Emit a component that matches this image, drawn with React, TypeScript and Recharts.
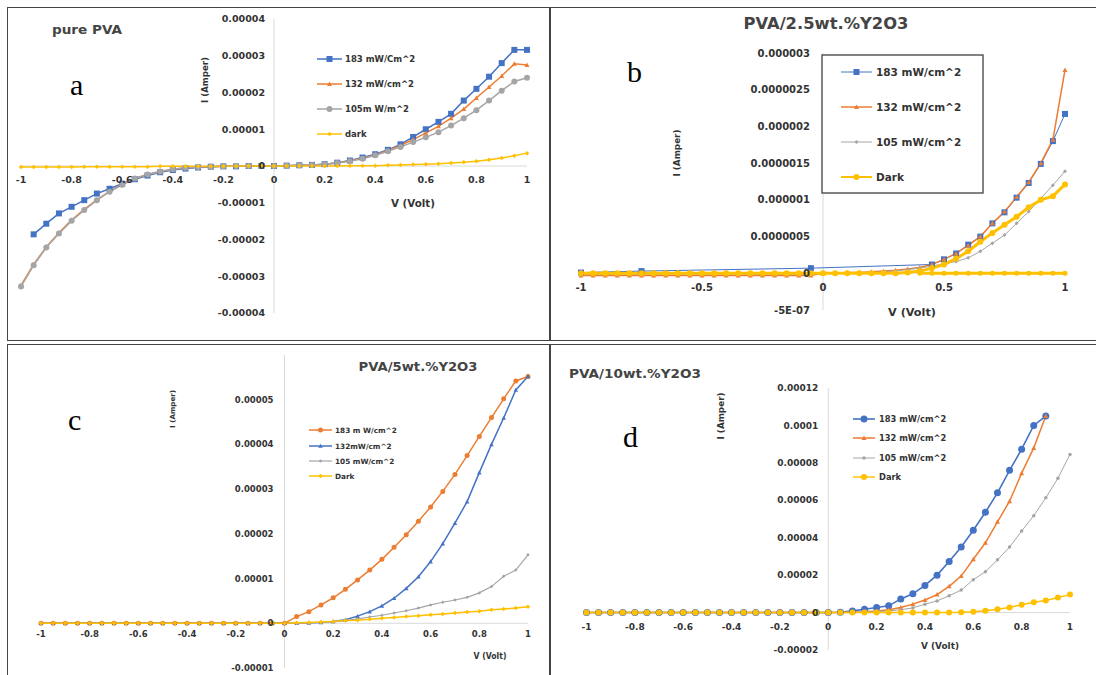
import React from 'react';
import { LineChart, Line, XAxis, YAxis, ReferenceLine, ReferenceDot } from 'recharts';

const FONT = "'DejaVu Sans', 'Liberation Sans', sans-serif";
const SERIF = "'Liberation Serif', 'DejaVu Serif', serif";
const BLUE = '#4472C4';
const ORANGE = '#ED7D31';
const GRAY = '#A5A5A5';
const GOLD = '#FFC000';
const TXT = '#333333';

// Voltage (V) sampled in every panel
const VOLTS = [-1, -0.95, -0.9, -0.85, -0.8, -0.75, -0.7, -0.65, -0.6, -0.55, -0.5, -0.45, -0.4, -0.35, -0.3, -0.25, -0.2, -0.15, -0.1, -0.05, 0, 0.05, 0.1, 0.15, 0.2, 0.25, 0.3, 0.35, 0.4, 0.45, 0.5, 0.55, 0.6, 0.65, 0.7, 0.75, 0.8, 0.85, 0.9, 0.95, 1];

// Tick values / labels
const X_TICKS = [-1, -0.8, -0.6, -0.4, -0.2, 0, 0.2, 0.4, 0.6, 0.8, 1];
const X_LABELS = ['-1', '-0.8', '-0.6', '-0.4', '-0.2', '0', '0.2', '0.4', '0.6', '0.8', '1'];
const B_X_TICKS = [-1, -0.5, 0, 0.5, 1];
const B_X_LABELS = ['-1', '-0.5', '0', '0.5', '1'];
const A_Y_TICKS = [4, 3, 2, 1, 0, -1, -2, -3, -4]; // x 1e-5 A
const A_Y_LABELS = ['0.00004', '0.00003', '0.00002', '0.00001', '0', '-0.00001', '-0.00002', '-0.00003', '-0.00004'];
const B_Y_TICKS = [3, 2.5, 2, 1.5, 1, 0.5, 0, -0.5]; // x 1e-6 A
const B_Y_LABELS = ['0.000003', '0.0000025', '0.000002', '0.0000015', '0.000001', '0.0000005', '0', '-5E-07'];
const C_Y_TICKS = [5, 4, 3, 2, 1, 0, -1]; // x 1e-5 A
const C_Y_LABELS = ['0.00005', '0.00004', '0.00003', '0.00002', '0.00001', '0', '-0.00001'];
const D_Y_TICKS = [12, 10, 8, 6, 4, 2, 0, -2]; // x 1e-5 A
const D_Y_LABELS = ['0.00012', '0.0001', '0.00008', '0.00006', '0.00004', '0.00002', '0', '-0.00002'];

// Panel a: pure PVA (current in 1e-5 A)
const A_183 = [null, -1.86, -1.57, -1.29, -1.11, -0.93, -0.75, -0.62, -0.48, -0.36, -0.26, -0.17, -0.11, -0.07, -0.04, -0.02, -0.01, -0.01, 0, 0, 0, 0.01, 0.02, 0.03, 0.05, 0.09, 0.15, 0.23, 0.32, 0.44, 0.59, 0.79, 1.0, 1.2, 1.42, 1.78, 2.1, 2.43, 2.8, 3.16, 3.16];
const A_132 = [-3.25, -2.68, -2.2, -1.82, -1.47, -1.18, -0.92, -0.69, -0.5, -0.34, -0.23, -0.15, -0.09, -0.05, -0.03, -0.02, -0.01, 0, 0, 0, 0, 0.01, 0.02, 0.03, 0.05, 0.08, 0.14, 0.21, 0.3, 0.42, 0.56, 0.72, 0.9, 1.08, 1.3, 1.55, 1.85, 2.15, 2.45, 2.78, 2.75];
const A_105 = [-3.28, -2.7, -2.22, -1.84, -1.49, -1.2, -0.93, -0.7, -0.51, -0.34, -0.23, -0.15, -0.09, -0.05, -0.03, -0.02, -0.01, 0, 0, 0, 0, 0.01, 0.02, 0.03, 0.05, 0.08, 0.13, 0.2, 0.29, 0.4, 0.52, 0.65, 0.78, 0.92, 1.1, 1.3, 1.52, 1.78, 2.05, 2.3, 2.4];
const A_DARK = [-0.03, -0.03, -0.03, -0.03, -0.03, -0.02, -0.02, -0.02, -0.02, -0.02, -0.02, -0.01, -0.01, -0.01, -0.01, -0.01, -0.01, 0, 0, 0, 0, 0, 0, 0, 0, 0, 0.01, 0.01, 0.01, 0.02, 0.03, 0.04, 0.05, 0.06, 0.08, 0.1, 0.13, 0.17, 0.22, 0.28, 0.35];

// Panel b: PVA/2.5wt.%Y2O3 (current in 1e-6 A)
const B_183 = [0.01, null, null, null, null, 0.03, null, null, null, null, null, null, null, null, null, null, null, null, null, 0.07, null, null, null, null, null, null, null, null, null, 0.12, 0.19, 0.27, 0.39, 0.5, 0.68, 0.83, 1.03, 1.23, 1.49, 1.8, 2.17];
const B_132 = [-0.03, -0.03, -0.03, -0.03, -0.03, -0.03, -0.03, -0.03, -0.03, -0.03, -0.03, -0.03, -0.03, -0.03, -0.03, -0.03, -0.03, -0.03, -0.03, -0.03, 0, 0, 0.01, 0.01, 0.02, 0.03, 0.04, 0.06, 0.08, 0.12, 0.19, 0.27, 0.38, 0.5, 0.68, 0.84, 1.04, 1.24, 1.5, 1.82, 2.77];
const B_105 = [-0.015, -0.015, -0.015, -0.015, -0.015, -0.015, -0.015, -0.015, -0.015, -0.015, -0.015, -0.015, -0.015, -0.015, -0.015, -0.015, -0.015, -0.015, -0.015, -0.015, 0, 0, 0, 0.01, 0.01, 0.02, 0.03, 0.05, 0.07, 0.1, 0.13, 0.16, 0.21, 0.3, 0.41, 0.52, 0.68, 0.84, 1.02, 1.2, 1.39];
const B_DARK = [0, 0, 0, 0, 0, 0, 0, 0, 0, 0, 0, 0, 0, 0, 0, 0, 0, 0, 0, 0, 0, 0, 0, 0, 0, 0, 0, 0.01, 0.03, 0.07, 0.12, 0.2, 0.3, 0.43, 0.55, 0.66, 0.77, 0.9, 1.0, 1.05, 1.21];
const B_DARK_BASE = [null, null, null, null, null, null, null, null, null, null, null, null, null, null, null, null, null, null, null, null, null, null, null, null, null, null, null, null, 0, 0, 0, 0, 0, 0, 0, 0, 0, 0, 0, 0, 0];

// Panel c: PVA/5wt.%Y2O3 (current in 1e-5 A)
const C_183 = [0, 0, 0, 0, 0, 0, 0, 0, 0, 0, 0, 0, 0, 0, 0, 0, 0, 0, 0, 0, 0, 0.15, 0.26, 0.41, 0.57, 0.76, 0.97, 1.19, 1.43, 1.7, 1.98, 2.28, 2.6, 2.95, 3.33, 3.75, 4.18, 4.6, 5.02, 5.42, 5.52];
const C_132 = [0, 0, 0, 0, 0, 0, 0, 0, 0, 0, 0, 0, 0, 0, 0, 0, 0, 0, 0, 0, 0, 0, 0.01, 0.02, 0.04, 0.08, 0.16, 0.26, 0.39, 0.56, 0.78, 1.04, 1.38, 1.78, 2.24, 2.72, 3.37, 4.0, 4.59, 5.22, 5.52];
const C_105 = [0, 0, 0, 0, 0, 0, 0, 0, 0, 0, 0, 0, 0, 0, 0, 0, 0, 0, 0, 0, 0, 0, 0.01, 0.02, 0.03, 0.06, 0.1, 0.14, 0.18, 0.23, 0.28, 0.34, 0.41, 0.47, 0.52, 0.58, 0.68, 0.82, 1.05, 1.19, 1.53];
const C_DARK = [0, 0, 0, 0, 0, 0, 0, 0, 0, 0, 0, 0, 0, 0, 0, 0, 0, 0, 0, 0, 0, 0.01, 0.02, 0.03, 0.04, 0.06, 0.07, 0.09, 0.11, 0.13, 0.15, 0.17, 0.19, 0.21, 0.23, 0.25, 0.27, 0.3, 0.32, 0.34, 0.37];

// Panel d: PVA/10wt.%Y2O3 (current in 1e-5 A)
const D_183 = [0, 0, 0, 0, 0, 0, 0, 0, 0, 0, 0, 0, 0, 0, 0, 0, 0, 0, 0, 0, 0, 0.02, 0.09, 0.18, 0.27, 0.36, 0.73, 1.0, 1.45, 2.0, 2.73, 3.5, 4.4, 5.36, 6.4, 7.6, 8.73, 10.0, 10.5, null, null];
const D_132 = [0, 0, 0, 0, 0, 0, 0, 0, 0, 0, 0, 0, 0, 0, 0, 0, 0, 0, 0, 0, 0, 0.01, 0.02, 0.04, 0.08, 0.15, 0.27, 0.45, 0.67, 0.96, 1.4, 1.95, 2.85, 3.73, 4.85, 5.95, 7.45, 8.8, 10.5, null, null];
const D_105 = [0, 0, 0, 0, 0, 0, 0, 0, 0, 0, 0, 0, 0, 0, 0, 0, 0, 0, 0, 0, 0, 0, 0.01, 0.03, 0.05, 0.09, 0.15, 0.25, 0.45, 0.62, 0.9, 1.2, 1.76, 2.18, 2.82, 3.5, 4.36, 5.18, 6.13, 7.18, 8.45];
const D_DARK = [0, 0, 0, 0, 0, 0, 0, 0, 0, 0, 0, 0, 0, 0, 0, 0, 0, 0, 0, 0, 0, 0, 0, 0, 0, 0, 0, 0, 0, 0, 0.01, 0.02, 0.05, 0.1, 0.18, 0.27, 0.42, 0.55, 0.64, 0.8, 0.96];

type Shape = 'square' | 'triangle' | 'circle' | 'diamond';
interface Series {
  name: string;
  values: (number | null)[];
  color: string;
  shape: Shape;
  size: number;
  width: number;
  legend?: boolean;
  connect?: boolean;
}
interface Legend {
  x1: number;
  x2: number;
  tx: number;
  rows: number[];
  font: number;
  box?: { x: number; y: number; w: number; h: number };
}
interface Panel {
  left: number;
  top: number;
  width: number;
  height: number;
  margin: { top: number; right: number; bottom: number; left: number };
  yDomain: [number, number];
  xTicks: number[];
  xLabels: string[];
  yTicks: number[];
  yLabels: string[];
  tickFont: number;
  yOff: number;
  xOff: number;
  series: Series[];
  legend: Legend;
}

function marker(shape: Shape, cx: number, cy: number, s: number, color: string, key?: string) {
  const h = s / 2;
  switch (shape) {
    case 'square':
      return <rect key={key} x={cx - h} y={cy - h} width={s} height={s} fill={color} />;
    case 'triangle':
      return <polygon key={key} points={`${cx},${cy - h} ${cx + h},${cy + h * 0.8} ${cx - h},${cy + h * 0.8}`} fill={color} />;
    case 'diamond':
      return <polygon key={key} points={`${cx},${cy - h} ${cx + h},${cy} ${cx},${cy + h} ${cx - h},${cy}`} fill={color} />;
    default:
      return <circle key={key} cx={cx} cy={cy} r={h} fill={color} />;
  }
}

function dotFor(s: Series) {
  return (p: any) => {
    const { cx, cy, index, value } = p;
    if (value === null || value === undefined || cx == null || cy == null || Number.isNaN(cy)) {
      return <g key={`e${index}`} />;
    }
    return marker(s.shape, cx, cy, s.size, s.color, `m${index}`);
  };
}

const PANEL_A: Panel = {
  left: 0, top: 0, width: 550, height: 340,
  margin: { top: 19, right: 23, bottom: 27, left: 21 },
  yDomain: [-4, 4],
  xTicks: X_TICKS, xLabels: X_LABELS, yTicks: A_Y_TICKS, yLabels: A_Y_LABELS,
  tickFont: 9.5, yOff: 9, xOff: 10,
  series: [
    { name: '183 mW/Cm^2', values: A_183, color: BLUE, shape: 'square', size: 6, width: 1.5 },
    { name: '132 mW/cm^2', values: A_132, color: ORANGE, shape: 'triangle', size: 5, width: 1.5 },
    { name: '105m W/m^2', values: A_105, color: GRAY, shape: 'circle', size: 6, width: 1.5 },
    { name: 'dark', values: A_DARK, color: GOLD, shape: 'diamond', size: 4.5, width: 1.5 },
  ],
  legend: { x1: 317, x2: 342, tx: 345, rows: [59, 84, 109, 134], font: 8.5 },
};

const PANEL_B: Panel = {
  left: 550, top: 0, width: 546, height: 340,
  margin: { top: 53, right: 31, bottom: 30, left: 31 },
  yDomain: [-0.5, 3],
  xTicks: B_X_TICKS, xLabels: B_X_LABELS, yTicks: B_Y_TICKS, yLabels: B_Y_LABELS,
  tickFont: 10, yOff: 13, xOff: 11,
  series: [
    { name: '183 mW/cm^2', values: B_183, color: BLUE, shape: 'square', size: 6, width: 1, connect: true },
    { name: '132 mW/cm^2', values: B_132, color: ORANGE, shape: 'triangle', size: 5, width: 1.5 },
    { name: '105 mW/cm^2', values: B_105, color: GRAY, shape: 'diamond', size: 4, width: 1 },
    { name: 'Dark', values: B_DARK, color: GOLD, shape: 'circle', size: 6, width: 3 },
    { name: 'Dark base', values: B_DARK_BASE, color: GOLD, shape: 'circle', size: 5, width: 3, legend: false },
  ],
  legend: { x1: 841, x2: 872, tx: 876, rows: [72, 107, 142, 177], font: 10.5, box: { x: 822, y: 55, w: 161, h: 138 } },
};

const PANEL_C: Panel = {
  left: 0, top: 340, width: 550, height: 335,
  margin: { top: 15, right: 22, bottom: 7, left: 41 },
  yDomain: [-1, 6],
  xTicks: X_TICKS, xLabels: X_LABELS, yTicks: C_Y_TICKS, yLabels: C_Y_LABELS,
  tickFont: 8.5, yOff: 11, xOff: 8,
  series: [
    { name: '183 m W/cm^2', values: C_183, color: ORANGE, shape: 'circle', size: 5, width: 1.5 },
    { name: '132mW/cm^2', values: C_132, color: BLUE, shape: 'triangle', size: 4.5, width: 1.5 },
    { name: '105 mW/cm^2', values: C_105, color: GRAY, shape: 'diamond', size: 3.5, width: 1.2 },
    { name: 'Dark', values: C_DARK, color: GOLD, shape: 'diamond', size: 4.5, width: 1.5 },
  ],
  legend: { x1: 309, x2: 332, tx: 335, rows: [430, 446, 461, 476], font: 7.3 },
};

const PANEL_D: Panel = {
  left: 550, top: 340, width: 546, height: 335,
  margin: { top: 48, right: 26, bottom: 25, left: 36.5 },
  yDomain: [-2, 12],
  xTicks: X_TICKS, xLabels: X_LABELS, yTicks: D_Y_TICKS, yLabels: D_Y_LABELS,
  tickFont: 9, yOff: 10, xOff: 11,
  series: [
    { name: '183 mW/cm^2', values: D_183, color: BLUE, shape: 'circle', size: 7, width: 1.6 },
    { name: '132 mW/cm^2', values: D_132, color: ORANGE, shape: 'triangle', size: 5, width: 1.5 },
    { name: '105 mW/cm^2', values: D_105, color: GRAY, shape: 'circle', size: 3.5, width: 1 },
    { name: 'Dark', values: D_DARK, color: GOLD, shape: 'circle', size: 6, width: 1.5 },
  ],
  legend: { x1: 853, x2: 875, tx: 879, rows: [419, 438, 458, 477], font: 8.3 },
};

const PANELS = [PANEL_A, PANEL_B, PANEL_C, PANEL_D];

function PanelChart({ cfg }: { cfg: Panel }) {
  const rows = VOLTS.map((v, i) => {
    const r: Record<string, number | null> = { v };
    cfg.series.forEach((s, k) => {
      r['s' + k] = s.values[i];
    });
    return r;
  });
  const labelStyle = { fontSize: cfg.tickFont, fontWeight: 700, fill: TXT, fontFamily: FONT };
  return (
    <div style={{ position: 'absolute', left: cfg.left, top: cfg.top }}>
      <LineChart width={cfg.width} height={cfg.height} data={rows} margin={cfg.margin}>
        <XAxis dataKey="v" type="number" domain={[-1, 1]} hide />
        <YAxis type="number" domain={cfg.yDomain} hide />
        <ReferenceLine x={0} stroke="#D9D9D9" strokeWidth={1} />
        <ReferenceLine y={0} stroke="#D9D9D9" strokeWidth={1} />
        {cfg.series.map((s, k) => (
          <Line
            key={k}
            dataKey={'s' + k}
            type="linear"
            stroke={s.color}
            strokeWidth={s.width}
            dot={dotFor(s)}
            activeDot={false}
            isAnimationActive={false}
            connectNulls={!!s.connect}
          />
        ))}
        {cfg.xTicks.map((t, i) => (
          <ReferenceDot
            key={'x' + i}
            x={t}
            y={0}
            r={0}
            fill="none"
            stroke="none"
            ifOverflow="visible"
            label={{ value: cfg.xLabels[i], position: 'bottom', offset: cfg.xOff, ...labelStyle }}
          />
        ))}
        {cfg.yTicks.map((t, i) => (
          <ReferenceDot
            key={'y' + i}
            x={0}
            y={t}
            r={0}
            fill="none"
            stroke="none"
            ifOverflow="visible"
            label={{ value: cfg.yLabels[i], position: 'left', offset: cfg.yOff, ...labelStyle }}
          />
        ))}
      </LineChart>
    </div>
  );
}

function LegendSvg({ cfg }: { cfg: Panel }) {
  const lg = cfg.legend;
  const items = cfg.series.filter((s) => s.legend !== false);
  return (
    <g>
      {lg.box && (
        <rect x={lg.box.x} y={lg.box.y} width={lg.box.w} height={lg.box.h} fill="#fff" stroke="#404040" strokeWidth={1.3} />
      )}
      {items.map((s, i) => {
        const y = lg.rows[i];
        const mid = (lg.x1 + lg.x2) / 2;
        return (
          <g key={i}>
            <line x1={lg.x1} x2={lg.x2} y1={y} y2={y} stroke={s.color} strokeWidth={Math.min(s.width, 2)} />
            {marker(s.shape, mid, y, s.size, s.color)}
            <text x={lg.tx} y={y + lg.font * 0.36} fontSize={lg.font} fontWeight={700} fill={TXT} fontFamily={FONT}>
              {s.name}
            </text>
          </g>
        );
      })}
    </g>
  );
}

interface Txt {
  t: string;
  x: number;
  y: number;
  size: number;
  len?: number;
  anchor?: 'start' | 'middle' | 'end';
  rot?: boolean;
  serif?: boolean;
  fill?: string;
}

const TEXTS: Txt[] = [
  { t: 'pure PVA', x: 52, y: 34, size: 12, len: 70, fill: '#444' },
  { t: 'a', x: 70, y: 95, size: 30, serif: true },
  { t: 'I (Amper)', x: 208, y: 80, size: 8.5, len: 46, anchor: 'middle', rot: true },
  { t: 'V (Volt)', x: 413, y: 207, size: 10, len: 44, anchor: 'middle' },

  { t: 'PVA/2.5wt.%Y2O3', x: 826, y: 29, size: 15, len: 165, anchor: 'middle', fill: '#444' },
  { t: 'b', x: 627, y: 82, size: 30, serif: true },
  { t: 'I (Amper)', x: 680, y: 153, size: 9, len: 47, anchor: 'middle', rot: true },
  { t: 'V (Volt)', x: 912, y: 316, size: 11, len: 48, anchor: 'middle' },

  { t: 'PVA/5wt.%Y2O3', x: 418, y: 371, size: 12, len: 119, anchor: 'middle', fill: '#444' },
  { t: 'c', x: 68, y: 430, size: 30, serif: true },
  { t: 'I (Amper)', x: 175, y: 409, size: 7, len: 38, anchor: 'middle', rot: true },
  { t: 'V (Volt)', x: 490, y: 659, size: 8, len: 33, anchor: 'middle' },

  { t: 'PVA/10wt.%Y2O3', x: 569, y: 378, size: 12.5, len: 132, fill: '#444' },
  { t: 'd', x: 623, y: 447, size: 30, serif: true },
  { t: 'I (Amper)', x: 724, y: 416, size: 8.5, len: 47, anchor: 'middle', rot: true },
  { t: 'V (Volt)', x: 940, y: 649, size: 9, len: 38, anchor: 'middle' },
];

const CELLS = [
  { left: 7, top: 7, width: 543, height: 334 },
  { left: 550, top: 7, width: 560, height: 334 },
  { left: 7, top: 344, width: 543, height: 345 },
  { left: 550, top: 344, width: 560, height: 345 },
];

export default function App() {
  return (
    <div style={{ position: 'absolute', left: 0, top: 0, width: 1096, height: 675, background: '#fff', overflow: 'hidden' }}>
      {PANELS.map((p, i) => (
        <PanelChart key={i} cfg={p} />
      ))}
      <svg width={1096} height={675} style={{ position: 'absolute', left: 0, top: 0, pointerEvents: 'none' }}>
        {PANELS.map((p, i) => (
          <LegendSvg key={i} cfg={p} />
        ))}
        {TEXTS.map((t, i) => (
          <text
            key={i}
            x={t.rot ? 0 : t.x}
            y={t.rot ? 0 : t.y}
            transform={t.rot ? `translate(${t.x},${t.y}) rotate(-90)` : undefined}
            fontSize={t.size}
            fontWeight={t.serif ? 400 : 700}
            fontFamily={t.serif ? SERIF : FONT}
            fill={t.fill || (t.serif ? '#000' : TXT)}
            textAnchor={t.anchor || 'start'}
            textLength={t.len}
            lengthAdjust={t.len ? 'spacingAndGlyphs' : undefined}
          >
            {t.t}
          </text>
        ))}
      </svg>
      {CELLS.map((c, i) => (
        <div
          key={i}
          style={{
            position: 'absolute',
            left: c.left,
            top: c.top,
            width: c.width,
            height: c.height,
            border: '1px solid #444',
            boxSizing: 'border-box',
            pointerEvents: 'none',
          }}
        />
      ))}
    </div>
  );
}
